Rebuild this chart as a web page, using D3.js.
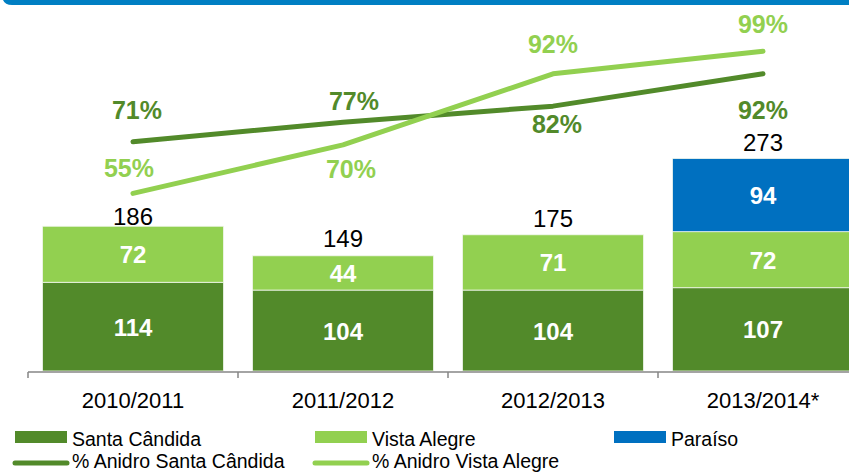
<!DOCTYPE html>
<html>
<head>
<meta charset="utf-8">
<title>Anidro</title>
<script src="https://d3js.org/d3.v7.min.js"></script>
<style>
    body { margin: 0; background: #fff; }
    text { font-family: "Liberation Sans", Arial, sans-serif; }
</style>
</head>
<body>
<div id="chart"></div>
<script>
    // Data
    const seasons = ['2010/2011', '2011/2012', '2012/2013', '2013/2014*'];
    const santaCandida = [114, 104, 104, 107];
    const vistaAlegre = [72, 44, 71, 72];
    const paraiso = [0, 0, 0, 94];
    const totals = [186, 149, 175, 273];
    const pctSantaCandida = [0.71, 0.77, 0.82, 0.92];
    const pctVistaAlegre = [0.55, 0.70, 0.92, 0.99];

    // label nudges (Excel style manual placement)
    const scLabelOff = [[4, -23], [11, -12], [4, 27], [0, 45]];
    const vaLabelOff = [[-4, -16], [8, 33], [0, -21], [0, -18]];
    const totalDy = [-1, -8, -8, -8];

    const darkGreen = '#528a2a';
    const lightGreen = '#92d050';
    const blue = '#0070c0';

    const width = 849, height = 472;

    const svg = d3.select('#chart').append('svg')
        .attr('width', width)
        .attr('height', height);

    // top banner
    svg.append('path')
        .attr('d', 'M3,0 H849 V5 H12 Q5,5 3,0 Z')
        .attr('fill', '#007fc3');

    // Scales
    const x = d3.scaleBand()
        .domain(seasons)
        .range([28, 868])
        .paddingInner(0.138)
        .paddingOuter(0.069);

    const y = d3.scaleLinear().domain([0, 415]).range([371, 48]);
    const yPct = d3.scaleLinear().domain([0, 1]).range([371, 48]);

    // stacked bars
    const rows = seasons.map((s, i) => ({
        season: s, sc: santaCandida[i], va: vistaAlegre[i], pa: paraiso[i]
    }));
    const stack = d3.stack().keys(['sc', 'va', 'pa'])(rows);
    const colors = { sc: darkGreen, va: lightGreen, pa: blue };

    const layers = svg.selectAll('g.layer')
        .data(stack)
        .enter().append('g')
        .attr('class', 'layer')
        .attr('fill', d => colors[d.key]);

    layers.selectAll('rect')
        .data(d => d.filter(p => p[1] > p[0]))
        .enter().append('rect')
        .attr('x', d => x(d.data.season))
        .attr('y', d => y(d[1]))
        .attr('width', x.bandwidth())
        .attr('height', d => y(d[0]) - y(d[1]))
        .attr('stroke', '#f2f7ee')
        .attr('stroke-width', 0.8);

    layers.selectAll('text')
        .data(d => d.filter(p => p[1] > p[0]))
        .enter().append('text')
        .attr('x', d => x(d.data.season) + x.bandwidth() / 2)
        .attr('y', d => (y(d[0]) + y(d[1])) / 2 + 9)
        .attr('text-anchor', 'middle')
        .attr('fill', '#fff')
        .attr('font-weight', 'bold')
        .attr('font-size', 24)
        .text(d => d[1] - d[0]);

    // totals
    svg.selectAll('text.total')
        .data(totals)
        .enter().append('text')
        .attr('class', 'total')
        .attr('x', (d, i) => x(seasons[i]) + x.bandwidth() / 2)
        .attr('y', (d, i) => y(d) + totalDy[i])
        .attr('text-anchor', 'middle')
        .attr('font-size', 24)
        .attr('fill', '#000')
        .text(d => d);

    // x axis
    const axis = svg.append('g')
        .attr('transform', 'translate(0,372)');
    axis.append('line')
        .attr('x1', 28).attr('x2', 868)
        .attr('stroke', '#868686').attr('stroke-width', 1.5);
    axis.selectAll('line.tick')
        .data(seasons)
        .enter().append('line')
        .attr('class', 'tick')
        .attr('x1', d => x(d) - x.step() * 0.069)
        .attr('x2', d => x(d) - x.step() * 0.069)
        .attr('y1', 0).attr('y2', 6)
        .attr('stroke', '#868686').attr('stroke-width', 1.5);
    axis.selectAll('text')
        .data(seasons)
        .enter().append('text')
        .attr('x', d => x(d) + x.bandwidth() / 2)
        .attr('y', 36)
        .attr('text-anchor', 'middle')
        .attr('font-size', 22)
        .attr('fill', '#000')
        .text(d => d);

    // lines
    const line = d3.line()
        .x((d, i) => x(seasons[i]) + x.bandwidth() / 2)
        .y(d => yPct(d));

    const series = [
        { values: pctSantaCandida, color: darkGreen, off: scLabelOff },
        { values: pctVistaAlegre, color: lightGreen, off: vaLabelOff }
    ];

    series.forEach(s => {
        svg.append('path')
            .datum(s.values)
            .attr('d', line)
            .attr('fill', 'none')
            .attr('stroke', s.color)
            .attr('stroke-width', 5)
            .attr('stroke-linecap', 'round')
            .attr('stroke-linejoin', 'round');
    });

    series.forEach(s => {
        svg.selectAll(null)
            .data(s.values)
            .enter().append('text')
            .attr('x', (d, i) => x(seasons[i]) + x.bandwidth() / 2 + s.off[i][0])
            .attr('y', (d, i) => yPct(d) + s.off[i][1])
            .attr('text-anchor', 'middle')
            .attr('font-size', 25)
            .attr('font-weight', 'bold')
            .attr('fill', s.color)
            .text(d => Math.round(d * 100) + '%');
    });

    // legend
    const legendBars = [
        { name: 'Santa Cândida', color: darkGreen, x: 15 },
        { name: 'Vista Alegre', color: lightGreen, x: 315 },
        { name: 'Paraíso', color: blue, x: 614 }
    ];
    const legendLines = [
        { name: '% Anidro Santa Cândida', color: darkGreen, x: 15 },
        { name: '% Anidro Vista Alegre', color: lightGreen, x: 315 }
    ];

    const lg = svg.append('g');
    legendBars.forEach(l => {
        lg.append('rect')
            .attr('x', l.x).attr('y', 431)
            .attr('width', 52).attr('height', 12)
            .attr('fill', l.color);
        lg.append('text')
            .attr('x', l.x + 57).attr('y', 446)
            .attr('font-size', 19.5)
            .attr('fill', '#000')
            .text(l.name);
    });
    legendLines.forEach(l => {
        lg.append('line')
            .attr('x1', l.x).attr('x2', l.x + 52)
            .attr('y1', 463).attr('y2', 463)
            .attr('stroke', l.color)
            .attr('stroke-width', 5)
            .attr('stroke-linecap', 'round');
        lg.append('text')
            .attr('x', l.x + 57).attr('y', 468)
            .attr('font-size', 19.5)
            .attr('fill', '#000')
            .text(l.name);
    });
</script>
</body>
</html>
